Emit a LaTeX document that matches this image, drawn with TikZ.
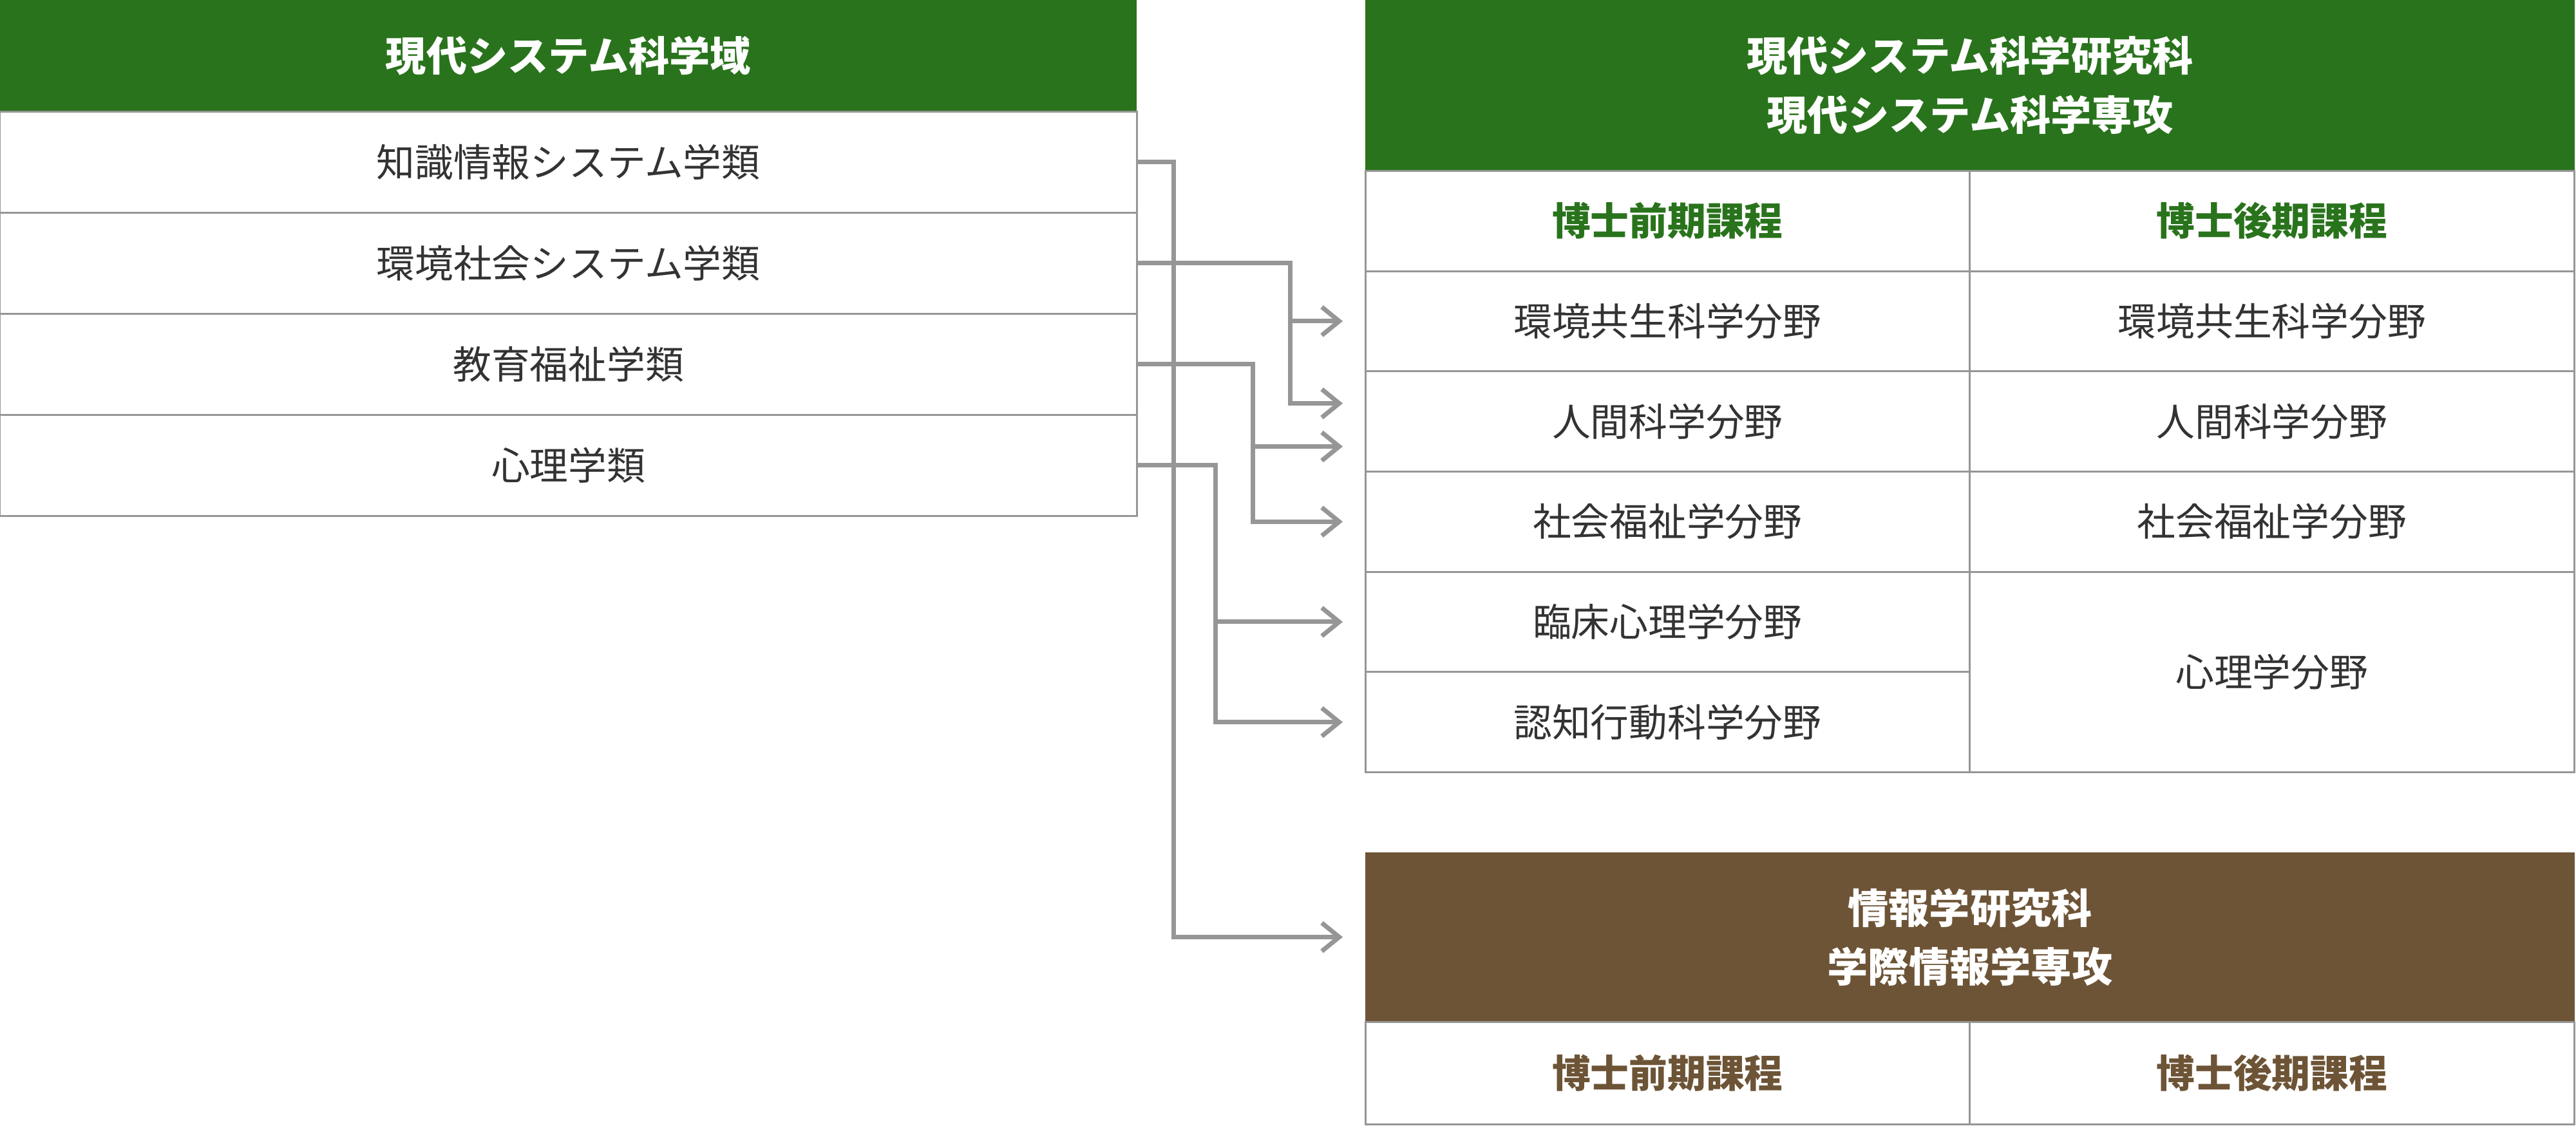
\documentclass[tikz,border=0pt]{standalone}
\usepackage{fontspec}
\setmainfont{Noto Sans CJK JP}
\usepackage{xcolor}
\usepackage{tikz}
\usetikzlibrary{arrows.meta, positioning}

\definecolor{hdgreen}{HTML}{29731C}
\definecolor{hdbrown}{HTML}{6D5436}
\definecolor{linegray}{HTML}{969696}
\definecolor{textgray}{HTML}{333333}

\begin{document}
\begin{tikzpicture}[
  node distance=0pt,
  cell/.style={rectangle, draw=linegray, line width=0.03cm, fill=white, text=textgray, align=center, outer sep=0pt, inner sep=0pt, minimum height=1.57cm, font=\fontsize{17}{25}\selectfont},
  head/.style={rectangle, fill=#1, text=white, align=center, outer sep=0pt, inner sep=0pt, font=\bfseries\fontsize{18}{26}\selectfont},
  course/.style={cell, minimum width=9.385cm, minimum height=1.56cm, text=#1, font=\bfseries\fontsize{17}{25}\selectfont},
  field/.style={cell, minimum width=9.385cm, minimum height=1.557cm},
  conn/.style={draw=linegray, line width=0.07cm, -{Straight Barb[length=2.7mm, width=4.4mm]}}
]
\useasboundingbox (0,0) rectangle (40,-17.48);

% Undergraduate side
\node[head=hdgreen, minimum width=17.65cm, minimum height=1.73cm, anchor=north west] (dom) at (0,0) {現代システム科学域};
\node[cell, minimum width=17.65cm, below=of dom] (l1) {知識情報システム学類};
\node[cell, minimum width=17.65cm, below=of l1] (l2) {環境社会システム学類};
\node[cell, minimum width=17.65cm, below=of l2] (l3) {教育福祉学類};
\node[cell, minimum width=17.65cm, below=of l3] (l4) {心理学類};

% Graduate school (green)
\node[head=hdgreen, minimum width=18.78cm, minimum height=2.65cm, anchor=north west] (grad) at (21.2,0) {現代システム科学研究科\\現代システム科学専攻};
\node[course=hdgreen, anchor=north west] (mc) at (grad.south west) {博士前期課程};
\node[course=hdgreen, right=of mc] (dc) {博士後期課程};
\node[field, below=of mc] (ra1) {環境共生科学分野};
\node[field, below=of ra1] (ra2) {人間科学分野};
\node[field, below=of ra2] (ra3) {社会福祉学分野};
\node[field, below=of ra3] (ra4) {臨床心理学分野};
\node[field, below=of ra4] (ra5) {認知行動科学分野};
\node[field, below=of dc] (rb1) {環境共生科学分野};
\node[field, below=of rb1] (rb2) {人間科学分野};
\node[field, below=of rb2] (rb3) {社会福祉学分野};
\node[field, minimum height=3.114cm, below=of rb3] (rb4) {心理学分野};

% Graduate school (brown)
\node[head=hdbrown, minimum width=18.78cm, minimum height=2.63cm, anchor=north west] (info) at (21.2,-13.24) {情報学研究科\\学際情報学専攻};
\node[course=hdbrown, minimum height=1.59cm, anchor=north west] (imc) at (info.south west) {博士前期課程};
\node[course=hdbrown, minimum height=1.59cm, right=of imc] (idc) {博士後期課程};

% Connectors
\coordinate (bus1) at (18.22,0);
\coordinate (bus2) at (20.03,0);
\coordinate (bus3) at (19.45,0);
\coordinate (bus4) at (18.87,0);
\coordinate (t1) at ([xshift=-3.5mm]info.west);
\coordinate (t2a) at ([xshift=-3.5mm]ra1.west);
\coordinate (t2b) at ([xshift=-3.5mm, yshift=2.8mm]ra2.west);
\coordinate (t3a) at ([xshift=-3.5mm, yshift=-3.9mm]ra2.west);
\coordinate (t3b) at ([xshift=-3.5mm]ra3.west);
\coordinate (t4a) at ([xshift=-3.5mm]ra4.west);
\coordinate (t4b) at ([xshift=-3.5mm]ra5.west);

\draw[conn] (l1.east) -| (bus1 |- t1) -- (t1);
\draw[conn] (l2.east) -| (bus2 |- t2b) -- (t2b);
\draw[conn] (bus2 |- t2a) -- (t2a);
\draw[conn] (l3.east) -| (bus3 |- t3b) -- (t3b);
\draw[conn] (bus3 |- t3a) -- (t3a);
\draw[conn] (l4.east) -| (bus4 |- t4b) -- (t4b);
\draw[conn] (bus4 |- t4a) -- (t4a);
\end{tikzpicture}
\end{document}
